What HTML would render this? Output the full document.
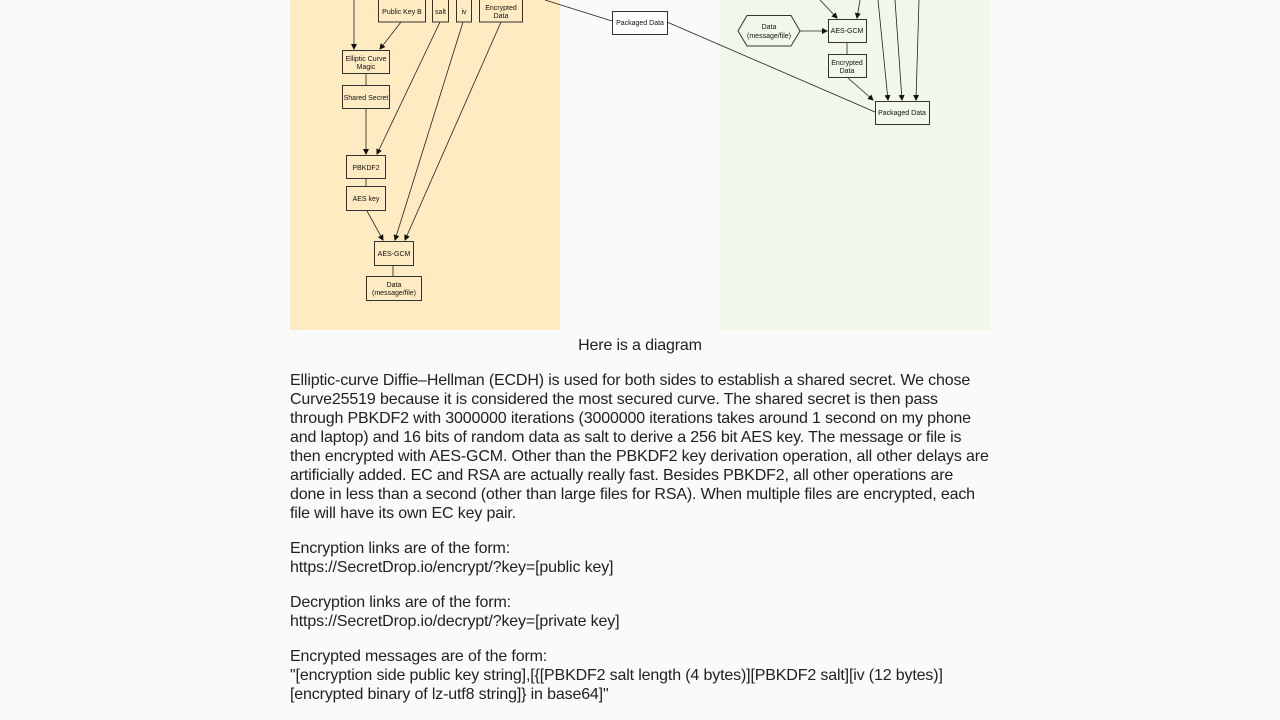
<!DOCTYPE html>
<html><head><meta charset="utf-8"><style>
html,body{margin:0;padding:0;background:#fafafa;width:1280px;height:720px;overflow:hidden}
body{font-family:"Liberation Sans",sans-serif;color:#212121}
svg{position:absolute;left:0;top:0}
.t{position:absolute;left:290px;font-size:16px;line-height:19px;white-space:nowrap;letter-spacing:-0.15px}
svg text{font-family:"Liberation Sans",sans-serif;font-size:7px;fill:#111;text-anchor:middle}
</style></head><body>
<svg width="1280" height="330" viewBox="0 0 1280 330">
<defs><marker id="a" markerWidth="6" markerHeight="6" refX="5" refY="3" orient="auto" markerUnits="userSpaceOnUse"><path d="M0,0L6,3L0,6z" fill="#111"/></marker></defs>
<rect x="290" y="0" width="270" height="330" fill="#ffebc2"/>
<rect x="720" y="0" width="270" height="330" fill="#f1f8e9"/>
<g fill="none" stroke="#333" stroke-width="1">
<rect x="378.5" y="-2" width="47" height="24"/>
<rect x="432.5" y="-2" width="16" height="24"/>
<rect x="456.5" y="-2" width="15" height="24"/>
<rect x="479.5" y="-2" width="43" height="24"/>
<rect x="342.5" y="50.5" width="47" height="23"/>
<rect x="342.5" y="85.5" width="47" height="23"/>
<rect x="346.5" y="155.5" width="39" height="23"/>
<rect x="346.5" y="186.5" width="39" height="24"/>
<rect x="374.5" y="241.5" width="39" height="24"/>
<rect x="366.5" y="276.5" width="55" height="24"/>
<rect x="612.5" y="11.5" width="55" height="23" fill="#fff"/>
<polygon points="738,31 747,15.5 791,15.5 800,31 791,46 747,46"/>
<rect x="828.5" y="19.5" width="38" height="23"/>
<rect x="828.5" y="54.5" width="38" height="23"/>
<rect x="875.5" y="101.5" width="54" height="23"/>
</g>
<g stroke="#222" stroke-width="0.8" fill="none">
<line x1="354" y1="0" x2="354" y2="49" marker-end="url(#a)"/>
<line x1="401" y1="22" x2="380" y2="49" marker-end="url(#a)"/>
<line x1="366" y1="74" x2="366" y2="85"/>
<line x1="366" y1="109" x2="366" y2="154" marker-end="url(#a)"/>
<line x1="440" y1="22" x2="377" y2="154" marker-end="url(#a)"/>
<line x1="366" y1="179" x2="366" y2="186"/>
<line x1="367" y1="211" x2="383" y2="240" marker-end="url(#a)"/>
<line x1="463" y1="22" x2="395" y2="240" marker-end="url(#a)"/>
<line x1="501" y1="22" x2="405" y2="240" marker-end="url(#a)"/>
<line x1="393" y1="266" x2="393" y2="276"/>
<line x1="545" y1="0" x2="612" y2="21"/>
<line x1="667" y1="22" x2="875" y2="112"/>
<line x1="800" y1="31" x2="827" y2="31" marker-end="url(#a)"/>
<line x1="820" y1="0" x2="837" y2="18" marker-end="url(#a)"/>
<line x1="860" y1="0" x2="857" y2="18" marker-end="url(#a)"/>
<line x1="847" y1="43" x2="847" y2="54"/>
<line x1="848" y1="78" x2="873" y2="100" marker-end="url(#a)"/>
<line x1="878" y1="0" x2="888" y2="100" marker-end="url(#a)"/>
<line x1="895" y1="0" x2="902" y2="100" marker-end="url(#a)"/>
<line x1="919" y1="0" x2="916" y2="100" marker-end="url(#a)"/>
</g>
<text x="402" y="14">Public Key B</text>
<text x="440.5" y="14">salt</text>
<text x="464" y="14">iv</text>
<text x="501" y="10">Encrypted</text><text x="501" y="18">Data</text>
<text x="366" y="61">Elliptic Curve</text><text x="366" y="69">Magic</text>
<text x="366" y="100">Shared Secret</text>
<text x="366" y="170">PBKDF2</text>
<text x="366" y="201">AES key</text>
<text x="394" y="256">AES-GCM</text>
<text x="394" y="287">Data</text><text x="394" y="295">(message/file)</text>
<text x="640" y="25">Packaged Data</text>
<text x="769" y="29">Data</text><text x="769" y="38">(message/file)</text>
<text x="847" y="33">AES-GCM</text>
<text x="847" y="65">Encrypted</text><text x="847" y="73">Data</text>
<text x="902" y="115">Packaged Data</text>
</svg>
<div class="t" style="top:336px;width:700px;text-align:center">Here is a diagram</div>
<div class="t" style="top:371px">Elliptic-curve Diffie–Hellman (ECDH) is used for both sides to establish a shared secret. We chose<br>Curve25519 because it is considered the most secured curve. The shared secret is then pass<br>through PBKDF2 with 3000000 iterations (3000000 iterations takes around 1 second on my phone<br>and laptop) and 16 bits of random data as salt to derive a 256 bit AES key. The message or file is<br>then encrypted with AES-GCM. Other than the PBKDF2 key derivation operation, all other delays are<br>artificially added. EC and RSA are actually really fast. Besides PBKDF2, all other operations are<br>done in less than a second (other than large files for RSA). When multiple files are encrypted, each<br>file will have its own EC key pair.</div>
<div class="t" style="top:539px">Encryption links are of the form:<br>https://SecretDrop.io/encrypt/?key=[public key]</div>
<div class="t" style="top:593px">Decryption links are of the form:<br>https://SecretDrop.io/decrypt/?key=[private key]</div>
<div class="t" style="top:647px">Encrypted messages are of the form:<br>"[encryption side public key string],[{[PBKDF2 salt length (4 bytes)][PBKDF2 salt][iv (12 bytes)]<br>[encrypted binary of lz-utf8 string]} in base64]"</div>
</body></html>
